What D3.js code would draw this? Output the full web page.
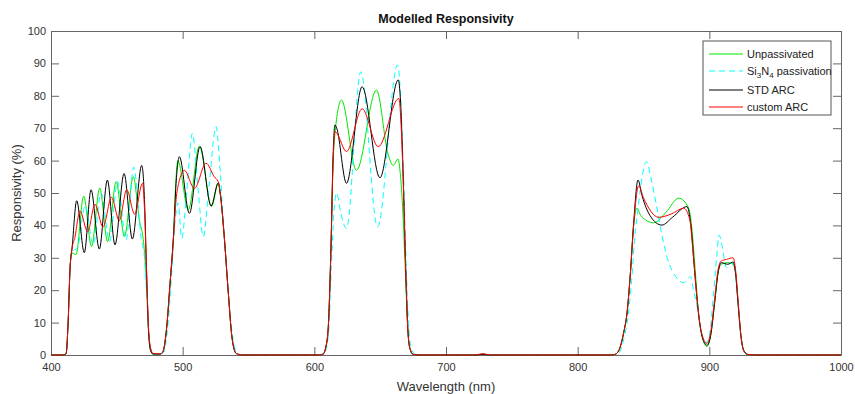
<!DOCTYPE html>
<html>
<head>
<meta charset="utf-8">
<script src="https://cdn.jsdelivr.net/npm/d3@7"></script>
<style>
  body { margin: 0; background: #fff; }
  svg { font-family: "Liberation Sans", Arial, sans-serif; }
</style>
</head>
<body>
<svg id="chart" width="855" height="394"></svg>
<script>
const xTicks = [400, 500, 600, 700, 800, 900, 1000];
const yTicks = [0, 10, 20, 30, 40, 50, 60, 70, 80, 90, 100];

// [wavelength (nm), responsivity (%)]
const unpassivated = [
  [400,0],[410,0],[411.5,0.5],[413,10],[414.5,27],[416,31.5],[419,31],[424.8,49],[430.8,33.5],[437,51.5],
  [443,35],[449.5,53.5],[455.8,36.5],[462.5,55],[467,42],[470.5,34],[472.5,22],[474,8],[475.5,2],[477.5,0.3],
  [483,0.3],[485,1],[487.9,8.7],[490.4,22],[493,36.5],[495,55],[496.3,60],[504.3,44.8],[512.7,64.5],[522,45.8],
  [527,53],[528.5,50],[531.5,37],[534.7,19],[537.3,6],[540.6,0.5],[545,0],[604,0],[606.7,0.3],[608.5,2],
  [610.5,8],[612.5,31],[614.3,60],[615.6,68],[620.6,78.7],[632,57],[647.2,81.8],[656,62],[659.9,58.5],[663.5,60.5],
  [665.5,55],[667.5,42],[669.5,22],[671,8],[672.6,2],[675,0.2],[680,0],[722,0],[728,0.3],[734,0],
  [826,0],[829,0.3],[832.4,2.6],[835,7],[837.5,13],[840,25],[842.5,40],[845,45.3],[848,43],[857.7,40.8],
  [867,44],[876.7,48.4],[884.3,45.3],[887,38],[889.5,25],[892,12],[895,5],[898.2,2.6],[901,6],[904,16],
  [906.5,25],[909,28],[914,28.5],[918,28],[920,25],[922,15],[924,6],[926,1.5],[929,0.2],[935,0],[1000,0]
];

const si3n4 = [
  [400,0],[410,0],[411.5,0.5],[413,10],[414.5,27],[416,32],[420,33],[426,46],[432,34],[438,50],
  [444.5,35],[450.5,53.5],[457,35.5],[462.8,58],[468.5,36],[471,30],[472.5,20],[474,8],[475.5,2],[477.5,0.3],
  [483,0.3],[485.5,0.8],[488.5,8],[491,21],[494,40],[496.5,47],[499.3,36],[503,50],[507.4,68.4],[511.5,52],
  [515.7,36.5],[520,52],[525.4,70.5],[528.3,58],[531.3,38],[534.5,20],[537.5,7],[541,0.8],[545,0],[604,0],
  [606.7,0.2],[609,2],[611,8],[613,28],[615,45],[617,50],[620,44],[624.4,39],[635.3,87.4],[648,39.5],
  [663.2,89.5],[665.5,80],[667.8,55],[670,25],[672,7],[674,1.5],[677,0.2],[680,0],[722,0],[728,0.2],
  [734,0],[827,0],[832,1],[835,5],[838,11],[841,23],[843.5,37],[845.5,44],[849,55],[852.1,59.7],
  [856,54],[860,45.8],[864,37],[867.8,30.3],[875.4,23.7],[880.5,22.3],[885.6,24.2],[888,20],[890.7,15],[894,7],
  [897,3.6],[900,6],[903,18],[905.5,30],[907.5,37],[910,33],[913,27],[917,28.5],[919.5,26],[921.5,17],
  [923.5,7],[925.5,2],[928,0.3],[935,0],[1000,0]
];

const stdArc = [
  [400,0],[410,0],[411.5,0.5],[413,10],[414.5,27],[416,33],[419.5,47.6],[425.3,31.6],[430.4,51],[436.7,32.7],
  [442.8,54],[448.6,34],[455.5,56],[461.8,35.8],[468.9,58.5],[471,48],[472.5,27],[474,8],[475.5,1.5],[477.5,0.3],
  [483,0.3],[485,1],[487.9,8.7],[490.4,22],[493,36.5],[495,53],[497.5,61.2],[505.1,43.7],[513.2,64.3],[521.6,46],
  [527.1,53.2],[528.5,50],[531.5,37],[534.7,19],[537.3,6],[540.6,0.5],[545,0],[604,0],[606.7,0.3],[608.5,2],
  [610.5,8],[612.5,31],[614.3,62],[615.6,71],[617,70],[624.4,53],[636.3,82.8],[649.8,54.7],[663.7,84.9],[665.5,78],
  [667.5,55],[669.5,25],[671,8],[672.6,2],[675,0.2],[680,0],[722,0],[728,0.2],[734,0],[826,0],
  [829,0.3],[832.4,2.6],[835,7],[837.5,13],[840,25],[842.5,40.6],[845.8,54],[849,49],[855,43],[864,40.1],
  [872,42.5],[883,45.8],[886,40],[889,25],[892,12],[895,5],[898.2,3],[901,6],[904,16],[906.5,25],
  [909,28.5],[914,28],[918,28.7],[920,25],[922,15],[924,6],[926,1.5],[929,0.2],[935,0],[1000,0]
];

const customArc = [
  [400,0],[410,0],[411.5,0.5],[413,10],[414.5,27],[416,33],[418,36],[422,44.5],[427.8,38],[433.4,46.5],
  [439.5,39.5],[446,48.7],[451.8,41.5],[457.5,51],[463.5,43.5],[469.5,53],[471,45],[472.5,27],[474,9],[475.5,2.5],
  [477.5,0.5],[483,0.3],[485,1],[487.9,8.7],[490.4,22],[493,36],[495,48],[497,53],[501.3,57],[508.9,51.4],
  [517.8,59.2],[524,55],[527,53.5],[528.5,50],[531.5,37],[534.7,19],[537.3,6],[540.6,0.5],[545,0],[604,0],
  [606.7,0.3],[608.5,2],[610.5,8],[612.5,31],[614.3,60],[615.6,69],[617,68.5],[624.4,62.8],[636.3,76],[648.5,64.3],
  [664.2,79.2],[666,70],[667.8,50],[669.5,25],[671,8],[672.6,2],[675,0.2],[680,0],[722,0],[728,0.4],
  [734,0],[826,0],[829,0.3],[832.4,2.6],[835,7],[837.5,13],[840,25],[842.5,40],[846.3,52.2],[850,48.5],
  [861.5,42.5],[871,43.5],[880.5,45.3],[885,42],[888,30],[891,16],[894,7],[898.2,3.6],[901,7],[904,17],
  [906.5,26],[909,29],[913,29.5],[918,30],[920,26],[922,16],[924,6],[926,1.5],[929,0.2],[935,0],[1000,0]
];

const series = [
  { name: "Unpassivated", data: unpassivated, color: "#00e600", dash: null },
  { name: "Si3N4 passivation", data: si3n4, color: "#00ffff", dash: "6,4" },
  { name: "STD ARC", data: stdArc, color: "#000000", dash: null },
  { name: "custom ARC", data: customArc, color: "#ff0000", dash: null }
];

const plotLeft = 51, plotRight = 841, plotTop = 31, plotBottom = 355;
const axisColor = "#666";
const textColor = "#333";

const svg = d3.select("#chart");

const x = d3.scaleLinear().domain([400, 1000]).range([plotLeft, plotRight]);
const y = d3.scaleLinear().domain([0, 100]).range([plotBottom, plotTop]);

function styleAxis(g) {
  g.select(".domain").attr("stroke", axisColor);
  g.selectAll(".tick line").attr("stroke", axisColor);
  g.selectAll(".tick text").attr("fill", textColor).attr("font-size", 11);
  g.attr("font-family", null);
}

svg.append("g")
  .attr("transform", `translate(0,${plotBottom})`)
  .call(d3.axisBottom(x).tickValues(xTicks).tickFormat(d3.format("d"))
    .tickSize(-8).tickSizeOuter(0).tickPadding(8))
  .call(styleAxis);

svg.append("g")
  .attr("transform", `translate(0,${plotTop})`)
  .call(d3.axisTop(x).tickValues(xTicks).tickSize(-8).tickSizeOuter(0).tickFormat(""))
  .call(styleAxis);

svg.append("g")
  .attr("transform", `translate(${plotLeft},0)`)
  .call(d3.axisLeft(y).tickValues(yTicks).tickSize(-8).tickSizeOuter(0).tickPadding(5))
  .call(styleAxis);

svg.append("g")
  .attr("transform", `translate(${plotRight},0)`)
  .call(d3.axisRight(y).tickValues(yTicks).tickSize(-8).tickSizeOuter(0).tickFormat(""))
  .call(styleAxis);

const line = d3.line()
  .x(d => x(d[0]))
  .y(d => y(d[1]))
  .curve(d3.curveMonotoneX);

svg.selectAll(".series")
  .data(series)
  .enter()
  .append("path")
  .attr("class", "series")
  .attr("d", d => line(d.data))
  .attr("fill", "none")
  .attr("stroke", d => d.color)
  .attr("stroke-width", 1)
  .attr("stroke-dasharray", d => d.dash);

// title and axis labels
svg.append("text")
  .attr("x", (plotLeft + plotRight) / 2)
  .attr("y", 23)
  .attr("text-anchor", "middle")
  .attr("font-size", 12.5)
  .attr("font-weight", "bold")
  .attr("fill", "#111")
  .text("Modelled Responsivity");

svg.append("text")
  .attr("x", (plotLeft + plotRight) / 2)
  .attr("y", 391)
  .attr("text-anchor", "middle")
  .attr("font-size", 13)
  .attr("fill", textColor)
  .text("Wavelength (nm)");

svg.append("text")
  .attr("transform", `translate(21,${(plotTop + plotBottom) / 2}) rotate(-90)`)
  .attr("text-anchor", "middle")
  .attr("font-size", 13)
  .attr("fill", textColor)
  .text("Responsivity (%)");

// legend
const legend = svg.append("g").attr("transform", "translate(703,41)");
legend.append("rect")
  .attr("width", 128)
  .attr("height", 74)
  .attr("fill", "#fff")
  .attr("stroke", "#555");

const rowY = [13, 30, 49, 66];
const rows = legend.selectAll(".entry")
  .data(series)
  .enter()
  .append("g")
  .attr("class", "entry")
  .attr("transform", (d, i) => `translate(0,${rowY[i]})`);

rows.append("line")
  .attr("x1", 6)
  .attr("x2", 40)
  .attr("stroke", d => d.color)
  .attr("stroke-width", 1)
  .attr("stroke-dasharray", d => d.dash);

rows.append("text")
  .attr("x", 44)
  .attr("dy", "0.35em")
  .attr("font-size", 11)
  .attr("fill", "#222")
  .each(function (d) {
    const t = d3.select(this);
    // digits in the name are chemical subscripts (Si3N4)
    d.name.split(/(\d)/).filter(p => p !== "").forEach(p => {
      const span = t.append("tspan").text(p);
      if (/^\d$/.test(p)) span.attr("font-size", 8).attr("baseline-shift", "-3");
    });
  });
</script>
</body>
</html>
